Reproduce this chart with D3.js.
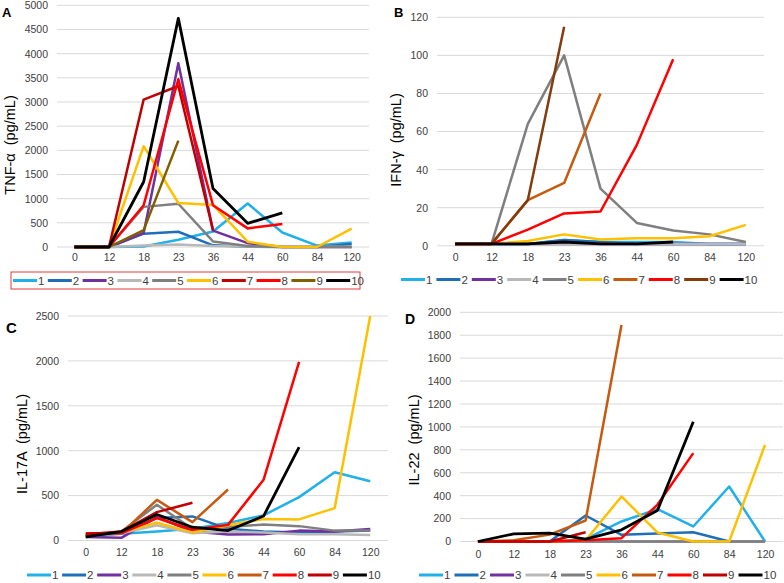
<!DOCTYPE html>
<html>
<head>
<meta charset="utf-8">
<script src="https://cdn.jsdelivr.net/npm/d3@7"></script>
<style>
  html, body { margin: 0; padding: 0; background: #fff; }
  svg { display: block; }
  text { font-family: "Liberation Sans", Arial, sans-serif; }
</style>
</head>
<body>
<svg id="chart" width="784" height="583"></svg>
<script>
// ---------- DATA ----------
const timePoints = ["0", "12", "18", "23", "36", "44", "60", "84", "120"];
const seriesNames = ["1", "2", "3", "4", "5", "6", "7", "8", "9", "10"];

// Panel A: TNF-alpha (pg/mL)
const tnfValues = [
  [0, 0, 10, 150, 320, 900, 300, 30, 95],
  [0, 0, 275, 315, 35, 5, 0, 0, 60],
  [0, 0, 290, 3800, 340, 80, 0, 0, 0],
  [0, 0, 30, 50, 20, 10, 5, 5, 5],
  [0, 0, 830, 895, 115, 20, 0, 0, 0],
  [0, 0, 2085, 910, 870, 110, 0, 0, 380],
  [0, 0, 3050, 3330, 345, null, null, null, null],
  [0, 0, 865, 3470, 865, 385, 475, null, null],
  [0, 0, 350, 2200, null, null, null, null, null],
  [0, 0, 1350, 4730, 1210, 490, 705, null, null]
];
// Panel B: IFN-gamma (pg/mL)
const ifnValues = [
  [1, 1, 1, 3, 2, 2, 2, 1, 1],
  [1, 1, 1, 3, 2, 1, 1, 1, 1],
  [1, 1, 1, 1, 1, 1, 1, 1, 1],
  [1, 1, 1, 1, 1, 1, 1, 1, 1],
  [1, 1, 64, 100, 30, 12, 8, 6, 2],
  [1, 1, 2.5, 6, 3.3, 4, 4, 5, 11],
  [1, 1, 24, 33, 80, null, null, null, null],
  [1, 1, 8.5, 17, 18, 53, 98, null, null],
  [1, 1, 24, 115, null, null, null, null, null],
  [1, 1, 1, 2, 1, 1, 2, null, null]
];
// Panel C: IL-17A (pg/mL)
const il17Values = [
  [40, 75, 100, 130, 195, 280, 483, 760, 660],
  [50, 90, 250, 268, 130, 100, 90, 100, 110],
  [40, 30, 260, 100, 68, 70, 110, 100, 128],
  [50, 80, 170, 80, 100, 90, 70, 70, 60],
  [50, 100, 398, 130, 150, 178, 160, 110, 110],
  [60, 90, 198, 90, 170, 240, 235, 360, 2500],
  [60, 80, 452, 204, 568, null, null, null, null],
  [80, 80, 250, 120, 174, 676, 1990, null, null],
  [70, 100, 316, 420, null, null, null, null, null],
  [40, 100, 290, 148, 111, 272, 1040, null, null]
];
// Panel D: IL-22 (pg/mL)
const il22Values = [
  [0, 0, 0, 20, 175, 282, 131, 480, 0],
  [0, 0, 0, 227, 58, 70, 81, 0, 0],
  [0, 0, 0, 0, 0, 0, 0, 0, 0],
  [0, 0, 0, 0, 0, 0, 0, 0, 0],
  [0, 0, 0, 0, 0, 0, 0, 0, 0],
  [0, 0, 0, 10, 393, 79, 0, 0, 843],
  [0, 10, 60, 183, 1889, null, null, null, null],
  [0, 0, 0, 10, 29, 320, 771, null, null],
  [0, 0, 0, 81, null, null, null, null, null],
  [0, 67, 73, 20, 102, 270, 1045, null, null]
];

const colorsA = ["#22b0e8", "#1f6fb8", "#7030a0", "#b8b8b8", "#7f7f7f", "#ffc000", "#c00000", "#ff0000", "#7f6000", "#000000"];
const colorsB = ["#22b0e8", "#1f6fb8", "#7030a0", "#b8b8b8", "#7f7f7f", "#ffc000", "#c55a11", "#ff0000", "#843c0c", "#000000"];
const colorsC = ["#22b0e8", "#1f6fb8", "#7030a0", "#b8b8b8", "#7f7f7f", "#ffc000", "#c55a11", "#ff0000", "#c00000", "#000000"];
const colorsD = colorsC;

const ticksA = d3.range(0, 5001, 500);
const ticksB = d3.range(0, 121, 20);
const ticksC = d3.range(0, 2501, 500);
const ticksD = d3.range(0, 2001, 200);

// ---------- LAYOUT ----------
const panels = [
  { letter: "A", title: "TNF-α  (pg/mL)", values: tnfValues, colors: colorsA, ticks: ticksA,
    x0: 57, x1: 369, yTop: 5.3, yBot: 247, letterX: 2, letterY: 17, letterSize: 13,
    titleX: 15, titleY: 145, xLabelY: 262,
    legend: { x: 13, pitch: 34.8, y: 280.5, box: [11, 272, 349, 17] } },
  { letter: "B", title: "IFN-γ  (pg/mL)", values: ifnValues, colors: colorsB, ticks: ticksB,
    x0: 437, x1: 764, yTop: 17.3, yBot: 245.8, letterX: 394, letterY: 17, letterSize: 13,
    titleX: 401, titleY: 140, xLabelY: 262,
    legend: { x: 401, pitch: 35.4, y: 279.5 } },
  { letter: "C", title: "IL-17A  (pg/mL)", values: il17Values, colors: colorsC, ticks: ticksC,
    x0: 68, x1: 388, yTop: 316, yBot: 540.5, letterX: 6, letterY: 333, letterSize: 15,
    titleX: 27, titleY: 444, xLabelY: 557,
    legend: { x: 27, pitch: 35.1, y: 575 } },
  { letter: "D", title: "IL-22  (pg/mL)", values: il22Values, colors: colorsD, ticks: ticksD,
    x0: 460, x1: 783, yTop: 312.3, yBot: 541.5, letterX: 405, letterY: 324, letterSize: 14,
    titleX: 419, titleY: 440, xLabelY: 559,
    legend: { x: 419, pitch: 35.5, y: 575 } }
];

const svg = d3.select("#chart");

panels.forEach(p => {
  const g = svg.append("g");
  const x = d3.scalePoint().domain(timePoints).range([p.x0, p.x1]).padding(0.5);
  const yMax = p.ticks[p.ticks.length - 1];
  const y = d3.scaleLinear().domain([0, yMax]).range([p.yBot, p.yTop]);

  // gridlines
  g.append("g").selectAll("line").data(p.ticks).join("line")
    .attr("x1", p.x0).attr("x2", p.x1)
    .attr("y1", d => y(d)).attr("y2", d => y(d))
    .attr("stroke", "#d9d9d9").attr("stroke-width", 1);

  // y axis labels
  const yAxis = d3.axisLeft(y).tickValues(p.ticks).tickFormat(d3.format("d")).tickSize(0).tickPadding(9);
  const ya = g.append("g").attr("transform", `translate(${p.x0},0)`).call(yAxis);
  ya.select(".domain").remove();
  ya.selectAll("text").attr("fill", "#404040").style("font-size", "10.5px")
    .style("font-family", '"Liberation Sans", Arial, sans-serif');

  // x axis labels
  const xAxis = d3.axisBottom(x).tickSize(0).tickPadding(0);
  const xa = g.append("g").attr("transform", `translate(0,${p.xLabelY - 8})`).call(xAxis);
  xa.select(".domain").remove();
  xa.selectAll("text").attr("fill", "#404040").style("font-size", "10.5px")
    .style("font-family", '"Liberation Sans", Arial, sans-serif');

  // lines
  const line = d3.line()
    .defined(d => d.v != null)
    .x(d => x(d.t))
    .y(d => y(d.v));
  p.values.forEach((vals, i) => {
    const pts = vals.map((v, j) => ({ t: timePoints[j], v: v }));
    g.append("path").datum(pts)
      .attr("d", line)
      .attr("fill", "none")
      .attr("stroke", p.colors[i])
      .attr("stroke-width", i === 9 ? 2.8 : 2.5)
      .attr("stroke-linejoin", "round");
  });

  // panel letter
  g.append("text").attr("x", p.letterX).attr("y", p.letterY)
    .style("font-size", p.letterSize + "px").style("font-weight", "bold")
    .attr("fill", "#000").text(p.letter);

  // y title
  g.append("text")
    .attr("transform", `translate(${p.titleX},${p.titleY}) rotate(-90)`)
    .attr("text-anchor", "middle")
    .style("font-size", "14.5px").attr("fill", "#000")
    .style("white-space", "pre").attr("xml:space", "preserve")
    .text(p.title);

  // legend
  const L = p.legend;
  if (L.box) {
    g.append("rect").attr("x", L.box[0]).attr("y", L.box[1])
      .attr("width", L.box[2]).attr("height", L.box[3])
      .attr("fill", "none").attr("stroke", "#e03a3a").attr("stroke-width", 1);
  }
  const lg = g.append("g").selectAll("g").data(seriesNames).join("g")
    .attr("transform", (d, i) => `translate(${L.x + i * L.pitch},${L.y})`);
  lg.append("line").attr("x1", 0).attr("x2", 24).attr("y1", 0).attr("y2", 0)
    .attr("stroke", (d, i) => p.colors[i]).attr("stroke-width", 3);
  lg.append("text").attr("x", 25).attr("y", 4)
    .style("font-size", "11.5px").attr("fill", "#404040").text(d => d);
});
</script>
</body>
</html>
